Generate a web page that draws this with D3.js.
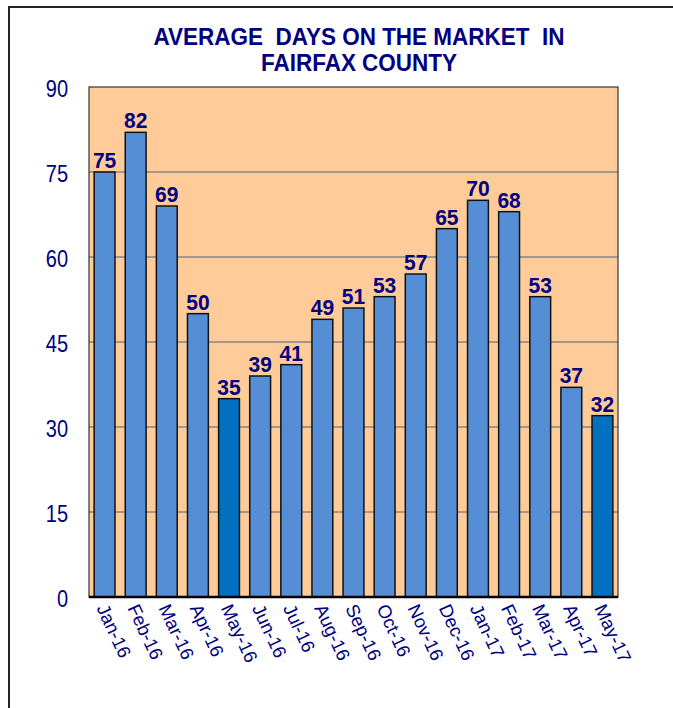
<!DOCTYPE html>
<html>
<head>
<meta charset="utf-8">
<script src="https://cdn.jsdelivr.net/npm/d3@7"></script>
<style>
  html, body { margin: 0; padding: 0; background: #ffffff; }
  svg { display: block; }
  text { font-family: Arial, "Liberation Sans", sans-serif; }
</style>
</head>
<body>
<svg id="chart" width="673" height="708"></svg>
<script>
const categories = ["Jan-16","Feb-16","Mar-16","Apr-16","May-16","Jun-16","Jul-16","Aug-16","Sep-16","Oct-16","Nov-16","Dec-16","Jan-17","Feb-17","Mar-17","Apr-17","May-17"];
const values = [75, 82, 69, 50, 35, 39, 41, 49, 51, 53, 57, 65, 70, 68, 53, 37, 32];
const highlighted = ["May-16", "May-17"];
const yTicks = [0, 15, 30, 45, 60, 75, 90];
const titleLines = ["AVERAGE  DAYS ON THE MARKET  IN", "FAIRFAX COUNTY"];

const svg = d3.select("#chart");
const navy = "#000080";

// outer frame
svg.append("path")
  .attr("d", "M9,708 V7 H673")
  .attr("fill", "none").attr("stroke", "#222").attr("stroke-width", 2);

const plot = { left: 89, right: 618, top: 87, bottom: 597 };

const x = d3.scaleBand().domain(categories).range([plot.left, plot.right]).paddingInner(0.33).paddingOuter(0.165);
const y = d3.scaleLinear().domain([0, 90]).range([plot.bottom, plot.top]);

// plot background
svg.append("rect")
  .attr("x", plot.left).attr("y", plot.top)
  .attr("width", plot.right - plot.left).attr("height", plot.bottom - plot.top)
  .attr("fill", "#FFCC99");

// gridlines
svg.append("g").selectAll("line").data(yTicks.filter(t => t > 0 && t < 90)).join("line")
  .attr("x1", plot.left).attr("x2", plot.right)
  .attr("y1", d => y(d)).attr("y2", d => y(d))
  .attr("stroke", "#868686").attr("stroke-width", 1.5);

// plot border
svg.append("rect")
  .attr("x", plot.left).attr("y", plot.top)
  .attr("width", plot.right - plot.left).attr("height", plot.bottom - plot.top)
  .attr("fill", "none").attr("stroke", "#333").attr("stroke-width", 1.2);

// bars
svg.append("g").selectAll("rect").data(categories).join("rect")
  .attr("x", d => x(d)).attr("width", x.bandwidth())
  .attr("y", (d, i) => y(values[i])).attr("height", (d, i) => y(0) - y(values[i]))
  .attr("fill", d => highlighted.includes(d) ? "#0070C0" : "#558ED5")
  .attr("stroke", "#111").attr("stroke-width", 1.5);

// value labels
svg.append("g").selectAll("text").data(categories).join("text")
  .attr("transform", (d, i) => `translate(${x(d) + x.bandwidth() / 2},${y(values[i]) - 4}) scale(1,1.05)`)
  .attr("text-anchor", "middle")
  .attr("font-size", 21).attr("font-weight", "bold").attr("fill", navy)
  .text((d, i) => values[i]);

// x axis baseline
svg.append("line")
  .attr("x1", plot.left).attr("x2", plot.right)
  .attr("y1", plot.bottom).attr("y2", plot.bottom)
  .attr("stroke", "#000").attr("stroke-width", 2.5);

// y axis
const yAxis = d3.axisLeft(y).tickValues(yTicks).tickSize(0).tickPadding(0);
const yg = svg.append("g").attr("transform", `translate(${plot.left - 21},0)`).call(yAxis);
yg.select(".domain").remove();
yg.selectAll(".tick text")
  .attr("font-size", 20).attr("fill", navy)
  .attr("font-family", "Arial, 'Liberation Sans', sans-serif")
  .attr("x", null).attr("dy", null)
  .attr("dominant-baseline", "central")
  .attr("transform", "scale(1,1.15)")
  .attr("y", 1);

// x axis labels
const xAxis = d3.axisBottom(x).tickSize(0).tickPadding(0);
const xg = svg.append("g").attr("transform", `translate(0,${plot.bottom})`).call(xAxis);
xg.select(".domain").remove();
xg.selectAll("text")
  .attr("font-size", 18.5).attr("fill", navy)
  .attr("font-family", "Arial, 'Liberation Sans', sans-serif")
  .attr("text-anchor", "start")
  .attr("dy", null).attr("y", 0).attr("x", 0)
  .attr("transform", "translate(-4,9) rotate(65)")
  .attr("dominant-baseline", "middle");

// title
svg.append("g").selectAll("text").data(titleLines).join("text")
  .attr("transform", (d, i) => `translate(359,${45 + i * 26}) scale(1,1.1)`)
  .attr("text-anchor", "middle")
  .attr("font-size", 22.5).attr("font-weight", "bold").attr("fill", navy)
  .attr("xml:space", "preserve")
  .style("white-space", "pre")
  .text(d => d);
</script>
</body>
</html>
